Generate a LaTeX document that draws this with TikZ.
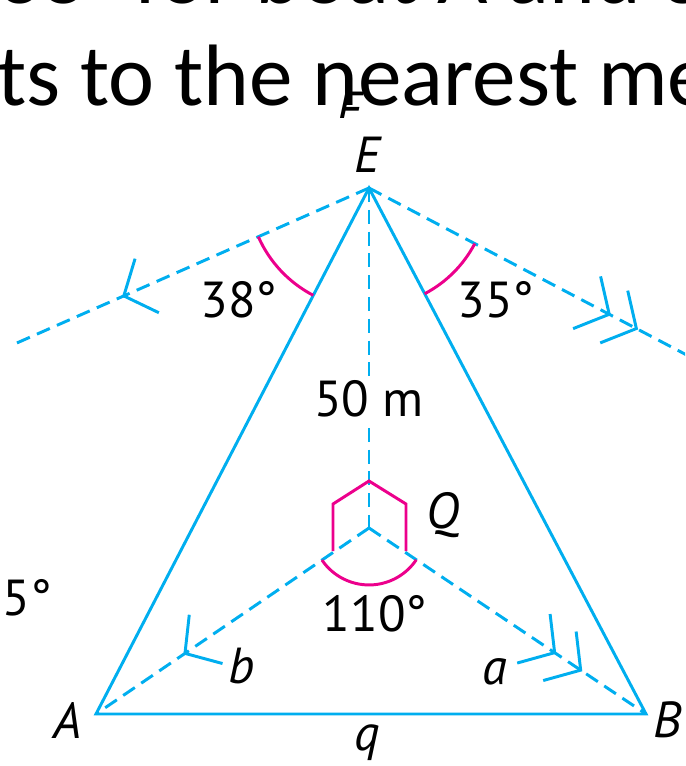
\documentclass[tikz,border=0pt]{standalone}
\usepackage{fontspec}
\setmainfont{Carlito}
\newfontfamily\figfont{PT Sans}
\usetikzlibrary{arrows.meta,decorations.markings,angles}
\definecolor{cian}{RGB}{0,174,239}
\definecolor{rosa}{RGB}{236,0,140}

\begin{document}
\begin{tikzpicture}[x=0.025cm,y=-0.025cm,
  linea/.style={draw=cian,line width=2.1pt},
  guia/.style={linea,dash pattern=on 10pt off 5.5pt},
  marca/.style={draw=rosa,line width=2.1pt},
  texto/.style={inner sep=0pt,font=\figfont\fontsize{36}{40}\selectfont},
  letra/.style={inner sep=0pt,font=\figfont\itshape\fontsize{36}{40}\selectfont},
  grande/.style={anchor=base west,inner sep=0pt,font=\fontsize{62}{74}\selectfont},
  punta/.style={postaction={decorate},decoration={markings,
    mark=at position #1 with {\arrow[cian]{Straight Barb[length=18pt,width=42pt]}}}},
  puntas/.style 2 args={postaction={decorate},decoration={markings,
    mark=at position #1 with {\arrow[cian]{Straight Barb[length=18pt,width=42pt]}},
    mark=at position #2 with {\arrow[cian]{Straight Barb[length=18pt,width=42pt]}}}}]
\useasboundingbox (0,0) rectangle (685,766);
\clip (0,0) rectangle (685,766);

\node[grande] (linea1) at (-3,4) {38° for boat A and 35°};
\node[grande] (linea2) at (-3,106) {ts to the nearest me};
\begin{scope}
\clip (325,85) rectangle (375,118);
\node[letra] (fantasma) at (349,110) {E};
\end{scope}

\coordinate (E) at (369,188);
\coordinate (A) at (96,714);
\coordinate (B) at (646,714);
\coordinate (Q) at (369,528);
\coordinate (L) at (10,346);
\coordinate (R) at (700,362);

\draw[linea] (A) -- (E) -- (B) -- cycle;
\draw[guia,punta=0.688] (E) -- (L);
\draw[guia,puntas={0.731}{0.813}] (E) -- (R);
\draw[guia] (E) -- node[pos=0.62,fill=white,texto,inner sep=3pt] (cincuenta) {50 m} (Q);
\draw[guia,punta=0.68] (Q) -- (A);
\draw[guia,puntas={0.676}{0.77}] (Q) -- (B);

\pic[marca,angle radius=86pt] {angle=L--E--A};
\pic[marca,angle radius=85pt] {angle=B--E--R};
\pic[marca,angle radius=40.5pt] {angle=A--Q--B};
\draw[marca] (333,551) -- (333,504) -- (369,481) -- (406,504) -- (406,551);

\node[letra] (eE) at (367,155) {E};
\node[letra] (eA) at (68,720) {A};
\node[letra] (eB) at (668,720) {B};
\node[letra] (eQ) at (443,515) {Q};
\node[letra] (eb) at (242,666) {b};
\node[letra] (ea) at (495,672) {a};
\node[letra] (eq) at (367,743) {q};
\node[texto] (ang38) at (239,300) {38°};
\node[texto] (ang35) at (496,300) {35°};
\node[texto] (ang110) at (375,614) {110°};
\node[texto,anchor=east] (angIzq) at (52,598) {35°};
\end{tikzpicture}
\end{document}
